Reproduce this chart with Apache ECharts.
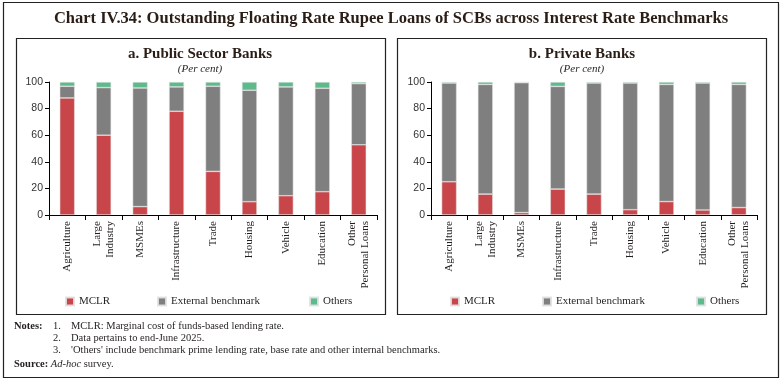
<!DOCTYPE html>
<html>
<head>
<meta charset="utf-8">
<script src="https://cdn.jsdelivr.net/npm/echarts@6/dist/echarts.min.js"></script>
<style>
html,body{margin:0;padding:0;background:#fff;}
#chart{width:782px;height:383px;}
</style>
</head>
<body>
<div id="chart"></div>
<script>
// ---- data ----
var categories = ['Agriculture', 'Large\nIndustry', 'MSMEs', 'Infrastructure', 'Trade', 'Housing', 'Vehicle', 'Education', 'Other\nPersonal Loans'];
var seriesNames = ['MCLR', 'External benchmark', 'Others'];
var yTicks = [0, 20, 40, 60, 80, 100];

var psbMCLR     = [88.0, 60.0, 6.3, 78.0, 32.8, 10.0, 14.5, 17.5, 52.8];
var psbExternal = [8.8, 35.8, 89.2, 18.3, 64.0, 83.8, 81.8, 77.8, 46.0];
var psbOthers   = [3.2, 4.2, 4.5, 3.7, 3.2, 6.2, 3.7, 4.7, 1.2];

var pvtMCLR     = [25.0, 15.7, 1.8, 19.5, 15.7, 4.0, 10.1, 3.8, 5.6];
var pvtExternal = [74.2, 82.5, 97.7, 77.2, 83.5, 95.2, 88.1, 95.4, 92.6];
var pvtOthers   = [0.8, 1.8, 0.5, 3.3, 0.8, 0.8, 1.8, 0.8, 1.8];

var colors = ['#c8464a', '#7f7f7f', '#5cba8b'];
var serif = 'Liberation Serif';
var sans = 'Liberation Sans';
var textColor = '#231f20';

function xAxis(gi) {
  return {
    type: 'category', gridIndex: gi, data: categories,
    axisLine: {lineStyle: {color: '#000', width: 1}},
    axisTick: {show: true, length: 5, lineStyle: {color: '#000'}},
    axisLabel: {rotate: 90, fontFamily: serif, fontSize: 11, color: textColor, margin: 6, lineHeight: 13, interval: 0}
  };
}
function yAxis(gi) {
  return {
    type: 'value', gridIndex: gi, min: yTicks[0], max: yTicks[yTicks.length - 1], interval: 20,
    axisLine: {show: true, lineStyle: {color: '#000', width: 1}},
    axisTick: {show: true, length: 4, lineStyle: {color: '#000'}},
    splitLine: {show: false},
    axisLabel: {fontFamily: sans, fontSize: 10.5, color: '#333', margin: 6}
  };
}
function bars(gi, arrs) {
  return arrs.map(function (d, i) {
    return {
      name: seriesNames[i], type: 'bar', stack: 's' + gi, xAxisIndex: gi, yAxisIndex: gi,
      data: d, barWidth: 15, itemStyle: {color: colors[i], borderColor: 'rgba(225,225,225,0.9)', borderWidth: 0.6},
      emphasis: {disabled: true}, animation: false
    };
  });
}
function legendItem(left, idx) {
  return {
    left: left, top: 296, padding: 0, itemWidth: 8, itemHeight: 8, icon: 'rect',
    data: [seriesNames[idx]], selectedMode: false,
    textStyle: {fontFamily: serif, fontSize: 11, color: textColor}
  };
}

var chart = echarts.init(document.getElementById('chart'), null, {renderer: 'canvas'});
chart.setOption({
  backgroundColor: '#fff',
  animation: false,
  grid: [
    {left: 49, top: 82, width: 328, height: 133, containLabel: false},
    {left: 431, top: 82, width: 326, height: 133, containLabel: false}
  ],
  xAxis: [xAxis(0), xAxis(1)],
  yAxis: [yAxis(0), yAxis(1)],
  legend: [legendItem(65, 0), legendItem(157, 1), legendItem(309, 2), legendItem(450, 0), legendItem(542, 1), legendItem(696, 2)],
  series: bars(0, [psbMCLR, psbExternal, psbOthers]).concat(bars(1, [pvtMCLR, pvtExternal, pvtOthers])),
  graphic: [
    {type: 'rect', shape: {x: 3.5, y: 2.5, width: 775, height: 375}, style: {fill: 'none', stroke: '#222', lineWidth: 1.2}, silent: true, z: -1},
    {type: 'rect', shape: {x: 16.5, y: 38.5, width: 369, height: 276}, style: {fill: 'none', stroke: '#222', lineWidth: 1.2}, silent: true, z: -1},
    {type: 'rect', shape: {x: 397.5, y: 38.5, width: 369, height: 276}, style: {fill: 'none', stroke: '#222', lineWidth: 1.2}, silent: true, z: -1},
    {type: 'text', left: 'center', top: 10, style: {text: 'Chart IV.34: Outstanding Floating Rate Rupee Loans of SCBs across Interest Rate Benchmarks', font: 'bold 16.5px "Liberation Serif"', fill: '#2a1d16'}},
    {type: 'text', x: 200, y: 54, style: {text: 'a. Public Sector Banks', font: 'bold 15px "Liberation Serif"', fill: '#2a1d16', textAlign: 'center', textVerticalAlign: 'middle'}},
    {type: 'text', x: 200, y: 69, style: {text: '(Per cent)', font: 'italic 11px "Liberation Serif"', fill: textColor, textAlign: 'center', textVerticalAlign: 'middle'}},
    {type: 'text', x: 582, y: 54, style: {text: 'b. Private Banks', font: 'bold 15px "Liberation Serif"', fill: '#2a1d16', textAlign: 'center', textVerticalAlign: 'middle'}},
    {type: 'text', x: 582, y: 69, style: {text: '(Per cent)', font: 'italic 11px "Liberation Serif"', fill: textColor, textAlign: 'center', textVerticalAlign: 'middle'}},
    {type: 'text', x: 14, y: 326, style: {text: 'Notes:', font: 'bold 10.5px "Liberation Serif"', fill: textColor, textVerticalAlign: 'middle'}},
    {type: 'text', x: 53, y: 326, style: {text: '1.', font: '10.5px "Liberation Serif"', fill: textColor, textVerticalAlign: 'middle'}},
    {type: 'text', x: 71, y: 326, style: {text: 'MCLR: Marginal cost of funds-based lending rate.', font: '10.5px "Liberation Serif"', fill: textColor, textVerticalAlign: 'middle'}},
    {type: 'text', x: 53, y: 338, style: {text: '2.', font: '10.5px "Liberation Serif"', fill: textColor, textVerticalAlign: 'middle'}},
    {type: 'text', x: 71, y: 338, style: {text: 'Data pertains to end-June 2025.', font: '10.5px "Liberation Serif"', fill: textColor, textVerticalAlign: 'middle'}},
    {type: 'text', x: 53, y: 350, style: {text: '3.', font: '10.5px "Liberation Serif"', fill: textColor, textVerticalAlign: 'middle'}},
    {type: 'text', x: 71, y: 350, style: {text: "'Others' include benchmark prime lending rate, base rate and other internal benchmarks.", font: '10.5px "Liberation Serif"', fill: textColor, textVerticalAlign: 'middle'}},
    {type: 'text', x: 14, y: 364, style: {
      text: '{b|Source:} {i|Ad-hoc} survey.',
      font: '10.5px "Liberation Serif"', fill: textColor, textVerticalAlign: 'middle',
      rich: {
        b: {fontFamily: serif, fontWeight: 'bold', fontSize: 10.5, fill: textColor},
        i: {fontFamily: serif, fontStyle: 'italic', fontSize: 10.5, fill: textColor}
      }
    }}
  ]
});
</script>
</body>
</html>
